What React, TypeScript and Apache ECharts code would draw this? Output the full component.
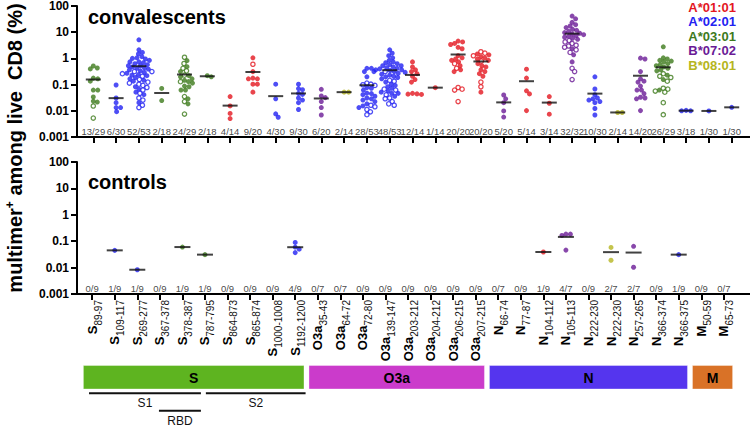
import React, { useEffect, useRef } from 'react';
import * as echarts from 'echarts';

const FONT = '"Liberation Sans", Arial, Helvetica, sans-serif';

// ---------- data ----------
const epitopeProteins = ['S','S','S','S','S','S','S','S','S','S','O3a','O3a','O3a','O3a','O3a','O3a','O3a','O3a','N','N','N','N','N','N','N','N','N','M','M'];
const epitopeRanges = ['89-97','109-117','269-277','367-378','378-387','787-795','864-873','865-874','1000-1008','1192-1200','35-43','64-72','72-80','139-147','203-212','204-212','206-215','207-215','66-74','77-87','104-112','105-113','222-230','222-230','257-265','366-374','366-375','50-59','65-73'];
const alleleNames = ['A*01:01','A*02:01','A*03:01','B*07:02','B*08:01'];
const alleleColors = ['#e3171f','#2222f2','#3d7a1c','#6a1a96','#b5b520'];
// allele index per epitope
const epitopeAllele = [2,1,1,2,2,2,0,0,1,1, 3,4,1,1,0,0,0,0, 3,0,0,3,1,4,3,2,1,1,1];

const convalescentCounts = ['13/29','6/30','52/53','2/18','24/29','2/18','4/14','9/20','4/30','9/30','6/20','2/14','28/53','48/53','12/14','1/14','20/20','20/20','5/20','5/14','3/14','32/32','10/30','2/14','14/20','26/29','3/18','1/30','1/30'];
const controlCounts = ['0/9','1/9','1/9','0/9','1/9','1/9','0/9','0/9','0/9','4/9','0/7','0/7','0/9','0/9','0/9','0/9','0/9','0/9','0/7','0/9','1/9','4/7','0/9','2/7','2/7','0/9','1/9','0/9','0/7'];

// multimer+ % among live CD8, filled symbols
const convalescentFilled: number[][] = [
  [0.49,0.41,0.38,0.17,0.16,0.13,0.06,0.06,0.033,0.023,0.021],
  [0.093,0.03,0.02,0.013,0.013,0.0091],
  [4.8,2.0,1.6,1.4,1.1,1.0,0.95,0.9,0.8,0.7,0.7,0.65,0.6,0.55,0.5,0.5,0.45,0.42,0.4,0.37,0.35,0.32,0.28,0.26,0.23,0.22,0.21,0.18,0.16,0.14,0.13,0.08,0.065,0.05,0.04,0.02],
  [0.069,0.024],
  [0.78,0.46,0.30,0.21,0.19,0.16,0.14,0.125,0.11,0.085,0.08,0.06,0.06,0.028,0.018],
  [0.21,0.19],
  [0.034,0.015,0.0078,0.005],
  [1.0,0.30,0.17,0.16,0.16,0.10,0.10,0.05],
  [0.10,0.028,0.0075,0.0056],
  [0.10,0.068,0.062,0.045,0.041,0.030,0.025,0.020,0.011],
  [0.064,0.036,0.031,0.022,0.013,0.0068],
  [0.05,0.05],
  [0.4,0.4,0.3,0.3,0.19,0.075,0.07,0.06,0.046,0.044,0.04,0.035,0.03,0.028,0.025,0.022,0.018,0.015,0.013],
  [2.0,1.5,1.2,1.0,0.8,0.7,0.65,0.6,0.55,0.5,0.5,0.45,0.42,0.4,0.38,0.35,0.35,0.33,0.3,0.28,0.26,0.24,0.22,0.2,0.19,0.18,0.16,0.12,0.1,0.09,0.08,0.07,0.055,0.05,0.045,0.045,0.035],
  [0.7,0.45,0.35,0.3,0.25,0.2,0.15,0.12,0.045,0.043,0.042,0.041],
  [0.074],
  [4.3,4.0,3.5,3.2,2.5,2.2,1.2,1.0,0.9,0.8,0.7,0.5,0.35,0.3],
  [1.4,1.3,1.1,1.0,0.9,0.8,0.6,0.5,0.45,0.35,0.3,0.25,0.2,0.05],
  [0.039,0.028,0.020,0.0097,0.0057],
  [0.37,0.17,0.056,0.043,0.010],
  [0.034,0.019,0.0073],
  [38,30,22,18,16,14,12,11,10,9,8.5,8,7.5,7,6.5,6,5.5,5,2.2,1.3,0.7],
  [0.19,0.066,0.04,0.03,0.028,0.025,0.022,0.02,0.012,0.0068],
  [0.0085,0.0085],
  [0.97,0.9,0.3,0.16,0.13,0.12,0.085,0.06,0.06,0.044,0.032,0.03,0.028,0.010],
  [2.6,1.0,0.9,0.8,0.75,0.7,0.6,0.55,0.5,0.45,0.4,0.35,0.32,0.22,0.15,0.06],
  [0.0098,0.0102,0.0098],
  [0.0097],
  [0.0133],
];
// open symbols
const convalescentOpen: number[][] = [
  [0.015,0.0052],
  [],
  [0.3,0.3,0.25,0.2,0.15,0.12,0.11,0.1,0.09,0.075,0.06,0.045,0.03,0.025,0.016,0.013],
  [],
  [1.05,0.61,0.40,0.32,0.22,0.125,0.034,0.022,0.0074],
  [],
  [],
  [0.57],
  [],
  [],
  [],
  [],
  [0.11,0.10,0.095,0.09,0.016,0.014,0.011,0.009,0.007],
  [0.3,0.14,0.13,0.065,0.06,0.04,0.03,0.028,0.022,0.018,0.016],
  [],
  [],
  [0.6,0.4,0.075,0.065,0.06,0.022],
  [1.7,1.5,1.2,0.75,0.12,0.08],
  [],
  [],
  [],
  [4.5,4,3.5,3,2.8,2.5,2,1.6,0.4,0.3,0.15],
  [],
  [],
  [],
  [0.25,0.2,0.18,0.13,0.07,0.065,0.055,0.05,0.02,0.007],
  [],
  [],
  [],
];
const controlFilled: number[][] = [
  [],[0.045],[0.0083],[],[0.06],[0.031],[],[],[],[0.09,0.06,0.05,0.037],
  [],[],[],[],[],[],[],[],
  [],[],[0.039],[0.185,0.165,0.185,0.046],[],[0.058,0.019],[0.064,0.0103],[],[0.031],
  [],[],
];

const yTickLabels = ['0.001','0.01','0.1','1','10','100'];

const proteinNames = ['S','O3a','N','M'];
const proteinFirst = [0,10,18,27];
const proteinLast = [9,17,26,28];
const proteinColors = ['#5eb420','#cb3bcb','#5535ee','#d97227'];

const regionNames = ['S1','S2','RBD'];
const regionStart = [-0.14,5.04,2.96];
const regionEnd = [4.82,9.46,4.82];
const regionRow = [0,0,1];

// ---------- layout helpers ----------
function swarm(vals: number[], pxPerDecade: number, diam: number): number[] {
  const order = vals.map((_, i) => i).sort((a, b) => vals[b] - vals[a]);
  const placed: { x: number; y: number }[] = [];
  const out = new Array(vals.length).fill(0);
  for (const i of order) {
    const y = Math.log10(vals[i]) * pxPerDecade;
    let best = 0;
    for (let k = 0; k < 400; k++) {
      const cand = k === 0 ? 0 : (k % 2 ? 1 : -1) * Math.ceil(k / 2) * 0.5;
      if (placed.every(p => Math.hypot(p.x - cand, p.y - y) >= diam)) { best = cand; break; }
    }
    placed.push({ x: best, y });
    out[i] = best;
  }
  return out;
}

function panelSeries(filled: number[][], open: number[][], counts: string[], xAxisIndex: number, yAxisIndex: number, bandPx: number, meanWidth: number): any[] {
  const filledData: any[] = [];
  const openData: any[] = [];
  const meanData: any[] = [];
  const countData: any[] = [];
  for (let i = 0; i < epitopeProteins.length; i++) {
    const f = filled[i] || [];
    const o = open[i] || [];
    const all = [...f, ...o];
    const color = alleleColors[epitopeAllele[i]];
    const offs = swarm(all, 26.4, 4.1);
    all.forEach((v, k) => {
      const x = i + offs[k] / bandPx;
      if (k < f.length) filledData.push({ value: [x, v], itemStyle: { color } });
      else openData.push({ value: [x, v], itemStyle: { color: '#ffffff', borderColor: color, borderWidth: 1.3 } });
    });
    if (all.length) meanData.push([i, all.reduce((a, b) => a + b, 0) / all.length]);
    countData.push([i, 0.001]);
  }
  const common = { xAxisIndex, yAxisIndex, silent: true, clip: false, animation: false };
  return [
    { ...common, type: 'scatter', data: filledData, symbol: 'circle', symbolSize: 5, z: 3 },
    { ...common, type: 'scatter', data: openData, symbol: 'circle', symbolSize: 4.3, z: 3 },
    { ...common, type: 'scatter', data: meanData, symbol: 'rect', symbolSize: [meanWidth, 2], itemStyle: { color: '#111' }, z: 4 },
    {
      ...common, type: 'scatter', data: countData, symbolSize: 0, itemStyle: { color: 'rgba(0,0,0,0)' }, z: 5,
      label: { show: true, position: 'top', distance: 1, formatter: (p: any) => counts[p.dataIndex], fontSize: 9.5, color: '#111', fontFamily: FONT },
    },
  ];
}

export default function App() {
  const ref = useRef<HTMLDivElement>(null);
  useEffect(() => {
    if (!ref.current) return;
    const chart = echarts.init(ref.current, null, { renderer: 'svg' });
    const idxCats = epitopeProteins.map((_, i) => String(i));
    const frameY = (gridIndex: number) => ({
      type: 'log', gridIndex, min: 0.001, max: 100, logBase: 10, splitNumber: 5,
      axisLine: { show: true, onZero: false, lineStyle: { color: '#000', width: 2 } },
      axisTick: { show: true, length: 6, lineStyle: { color: '#000', width: 2 } },
      axisLabel: {
        show: true, margin: 8, fontSize: 12, fontWeight: 'bold', color: '#000', fontFamily: FONT,
        formatter: (v: number) => yTickLabels[Math.round(Math.log10(v)) + 3],
      },
      splitLine: { show: false },
    });
    const hiddenLogY = (gridIndex: number) => ({ type: 'log', gridIndex, min: 0.001, max: 100, logBase: 10, show: false, splitLine: { show: false } });
    const frameX = (gridIndex: number) => ({
      type: 'value', gridIndex, min: 0, max: 1,
      axisLine: { show: true, onZero: false, lineStyle: { color: '#000', width: 2 } },
      axisTick: { show: false }, axisLabel: { show: false }, splitLine: { show: false },
    });
    const hiddenValX = (gridIndex: number) => ({ type: 'value', gridIndex, min: -0.5, max: 28.5, show: false, splitLine: { show: false } });
    const catX = (gridIndex: number, labels: boolean) => ({
      type: 'category', gridIndex, data: idxCats, boundaryGap: true, position: 'bottom',
      axisLine: { show: false },
      axisTick: { show: true, alignWithLabel: true, interval: 0, length: 6, lineStyle: { color: '#000', width: 2 } },
      axisLabel: labels ? {
        show: true, interval: 0, rotate: 90, margin: 6, hideOverlap: false,
        formatter: (_v: string, i: number) => `{m|${epitopeProteins[i]}}{s|${epitopeRanges[i]}}`,
        rich: {
          m: { fontSize: 13, fontWeight: 'bold', color: '#000', fontFamily: FONT, lineHeight: 22 },
          s: { fontSize: 10, color: '#111', fontFamily: FONT, verticalAlign: 'bottom' },
        },
      } : { show: false },
      splitLine: { show: false },
    });

    const option: any = {
      animation: false,
      backgroundColor: '#ffffff',
      textStyle: { fontFamily: FONT },
      grid: [
        { left: 77, top: 5, width: 673, height: 132 },
        { left: 81.9, top: 5, width: 661.2, height: 132 },
        { left: 77, top: 162, width: 673, height: 132 },
        { left: 80.9, top: 162, width: 654.2, height: 132 },
        { left: 80.9, top: 360, width: 654.2, height: 68 },
      ],
      xAxis: [
        frameX(0),
        hiddenValX(1),
        catX(1, false),
        frameX(2),
        hiddenValX(3),
        catX(3, true),
        hiddenValX(4),
      ],
      yAxis: [
        frameY(0),
        hiddenLogY(1),
        frameY(2),
        hiddenLogY(3),
        { type: 'value', gridIndex: 4, min: 0, max: 68, inverse: true, show: false, splitLine: { show: false } },
      ],
      series: [
        ...panelSeries(convalescentFilled, convalescentOpen, convalescentCounts, 1, 1, 22.8, 15),
        ...panelSeries(controlFilled, [], controlCounts, 4, 3, 22.56, 16),
        {
          type: 'custom', xAxisIndex: 6, yAxisIndex: 4, silent: true, clip: false,
          data: proteinNames.map((_, i) => [proteinFirst[i], proteinLast[i]]),
          renderItem: (params: any, api: any) => {
            const i = params.dataIndex;
            const p0 = api.coord([api.value(0) - 0.5, 5.5]);
            const p1 = api.coord([api.value(1) + 0.5, 29]);
            return {
              type: 'group',
              children: [
                { type: 'rect', shape: { x: p0[0] + 2.5, y: p0[1], width: p1[0] - p0[0] - 5, height: p1[1] - p0[1] }, style: { fill: proteinColors[i], stroke: 'rgba(255,255,255,0.35)', lineWidth: 1 } },
                { type: 'text', x: (p0[0] + p1[0]) / 2, y: (p0[1] + p1[1]) / 2 + 0.5, style: { text: proteinNames[i], align: 'center', verticalAlign: 'middle', fontSize: 14, fontWeight: 'bold', fontFamily: FONT, fill: '#000' } },
              ],
            };
          },
        },
        {
          type: 'custom', xAxisIndex: 6, yAxisIndex: 4, silent: true, clip: false,
          data: regionNames.map((_, i) => [regionStart[i], regionEnd[i]]),
          renderItem: (params: any, api: any) => {
            const i = params.dataIndex;
            const row = regionRow[i];
            const lineY = row === 0 ? 33.3 : 50.7;
            const textY = row === 0 ? 43.3 : 61;
            const a = api.coord([api.value(0), lineY]);
            const b = api.coord([api.value(1), lineY]);
            const t = api.coord([(api.value(0) + api.value(1)) / 2, textY]);
            return {
              type: 'group',
              children: [
                { type: 'line', shape: { x1: a[0], y1: a[1], x2: b[0], y2: b[1] }, style: { stroke: '#111', lineWidth: 2 } },
                { type: 'text', x: t[0], y: t[1], style: { text: regionNames[i], align: 'center', verticalAlign: 'middle', fontSize: 12, fontFamily: FONT, fill: '#111' } },
              ],
            };
          },
        },
      ],
      graphic: [
        {
          type: 'text', x: 15, y: 148, rotation: Math.PI / 2, silent: true,
          style: {
            text: '{a|multimer}{b|+}{a| among live  CD8 (%)}',
            align: 'center', verticalAlign: 'middle',
            rich: {
              a: { fontSize: 20, fontWeight: 'bold', fontFamily: FONT, fill: '#000', lineHeight: 22 },
              b: { fontSize: 12, fontWeight: 'bold', fontFamily: FONT, fill: '#000', verticalAlign: 'top' },
            },
          },
        },
        { type: 'text', x: 88, y: 17, silent: true, style: { text: 'convalescents', fontSize: 20, fontWeight: 'bold', fontFamily: FONT, fill: '#000', align: 'left', verticalAlign: 'middle' } },
        { type: 'text', x: 88, y: 182, silent: true, style: { text: 'controls', fontSize: 20, fontWeight: 'bold', fontFamily: FONT, fill: '#000', align: 'left', verticalAlign: 'middle' } },
        ...alleleNames.map((n, i) => ({
          type: 'text', x: 736, y: 7.5 + i * 14.4, silent: true,
          style: { text: n, fontSize: 13, fontWeight: 'bold', fontFamily: FONT, fill: alleleColors[i], align: 'right', verticalAlign: 'middle' },
        })),
      ],
    };
    chart.setOption(option);
    return () => chart.dispose();
  }, []);
  return <div ref={ref} style={{ position: 'fixed', left: 0, top: 0, width: 750, height: 428, background: '#fff' }} />;
}
